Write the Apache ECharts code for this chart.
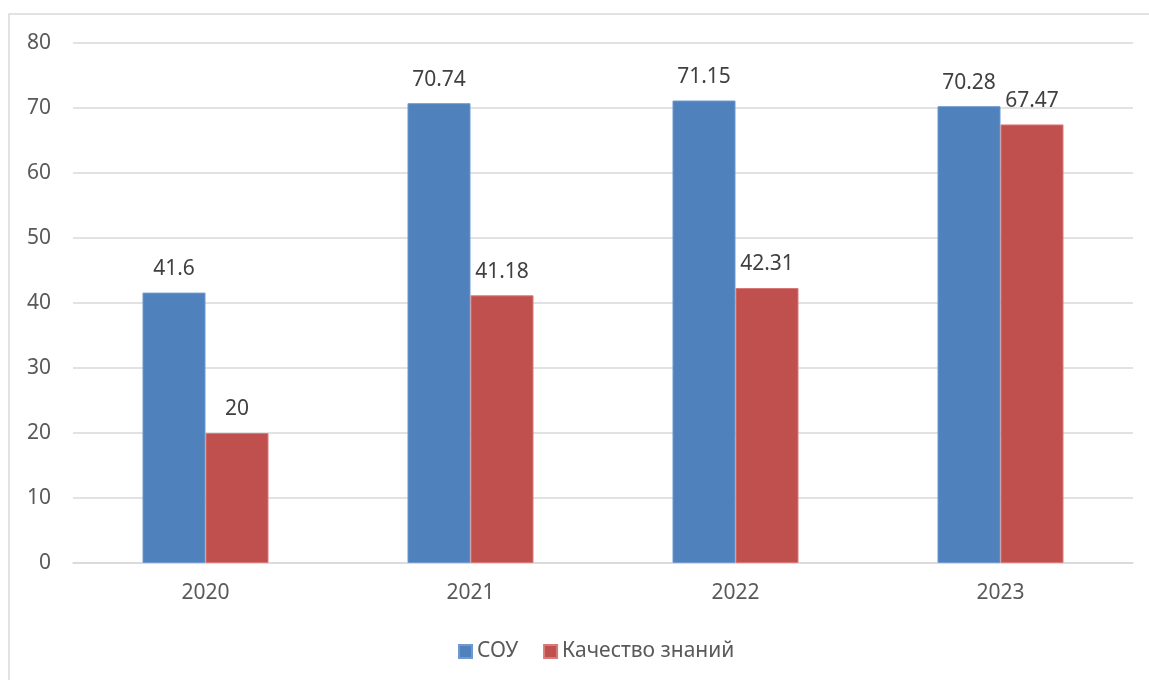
<!DOCTYPE html>
<html>
<head>
<meta charset="utf-8">
<script src="https://cdn.jsdelivr.net/npm/echarts@6/dist/echarts.min.js"></script>
<style>
html,body{margin:0;padding:0;background:#fff;}
#chart1{width:1149px;height:680px;}
</style>
</head>
<body>
<div id="chart1"></div>
<script>
// данные
var years = ['2020', '2021', '2022', '2023'];
var souData = [41.6, 70.74, 71.15, 70.28];
var qualityData = [20, 41.18, 42.31, 67.47];
var seriesNames = ['СОУ', 'Качество знаний'];

var chart1 = echarts.init(document.getElementById('chart1'));
var textColor = '#595959';
var fontName = 'Noto Sans';

var option = {
    color: ['#4f81bd', '#c0504d'],
    animation: false,
    textStyle: {fontFamily: fontName},
    graphic: [{
        type: 'rect',
        shape: {x: 9, y: 14, width: 2000, height: 2000},
        style: {fill: 'none', stroke: '#d9d9d9', lineWidth: 1.5},
        z: -1
    }],
    grid: {left: 73, right: 16, top: 43, bottom: 117},
    legend: {
        data: seriesNames,
        top: 636,
        left: 453,
        icon: 'rect',
        itemWidth: 13,
        itemHeight: 13,
        itemGap: 25,
        textStyle: {color: textColor, fontSize: 21, fontFamily: fontName}
    },
    xAxis: {
        type: 'category',
        data: years,
        axisLine: {lineStyle: {color: '#d9d9d9', width: 1.5}},
        axisTick: {show: false},
        axisLabel: {color: textColor, fontSize: 21, margin: 20, fontFamily: fontName}
    },
    yAxis: {
        type: 'value',
        min: 0,
        max: 80,
        interval: 10,
        axisLine: {show: false},
        axisTick: {show: false},
        splitLine: {lineStyle: {color: '#d9d9d9', width: 1.5}},
        axisLabel: {color: textColor, fontSize: 21, margin: 22, fontFamily: fontName}
    },
    series: [
        {
            name: seriesNames[0],
            type: 'bar',
            barWidth: 63,
            barGap: '0%',
            data: souData,
            itemStyle: {borderColor: '#6f99cf', borderWidth: 1},
            label: {show: true, position: 'top', distance: 13, color: '#404040', fontSize: 21, fontFamily: fontName}
        },
        {
            name: seriesNames[1],
            type: 'bar',
            barWidth: 63,
            barGap: '0%',
            data: qualityData,
            itemStyle: {borderColor: '#d87a78', borderWidth: 1},
            label: {show: true, position: 'top', distance: 13, color: '#404040', fontSize: 21, fontFamily: fontName}
        }
    ]
};
chart1.setOption(option);
</script>
</body>
</html>
